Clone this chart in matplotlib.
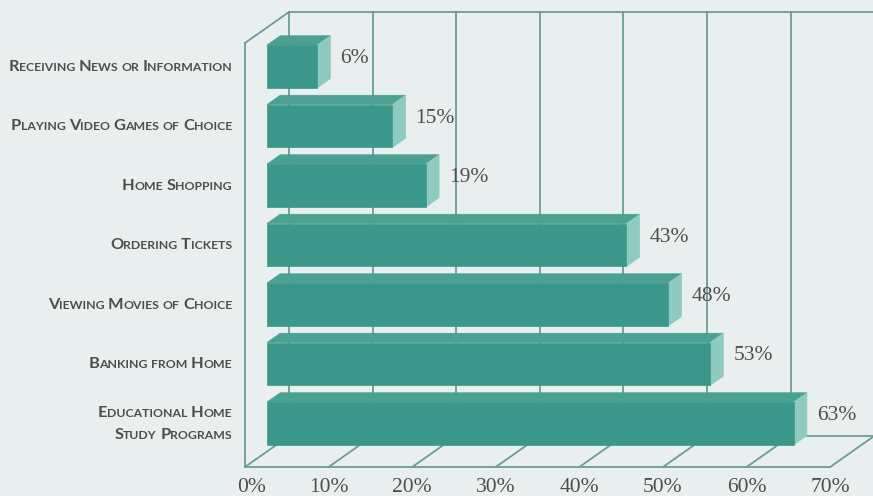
import numpy as np
import matplotlib.pyplot as plt
from matplotlib.patches import Polygon
import matplotlib.transforms as mtransforms

# data
categories = ["Receiving News or Information", "Playing Video Games of Choice",
              "Home Shopping", "Ordering Tickets", "Viewing Movies of Choice",
              "Banking from Home", "Educational Home\nStudy Programs"]
values = [6, 15, 19, 43, 48, 53, 63]
ticks = [0, 10, 20, 30, 40, 50, 60, 70]
tick_labels = ["0%", "10%", "20%", "30%", "40%", "50%", "60%", "70%"]

# layout (pixels of the 873x496 image)
W, H = 873, 496
PX = 8.36          # pixels per percent
ROW = 59.5         # pixels per category row
X0, Y0 = 245, 82   # 0% / first row on the front plane
DXP, DYP = 44, -31 # full depth offset in pixels

dx_full = DXP / PX
dy_full = DYP / ROW
floor_r = (467 - Y0) / ROW
top_r = (43 - Y0) / ROW

bg = "#e8efee"
grid_c = "#6b9c97"
front_c = "#3a978a"
top_c = "#4aa192"
side_c = "#8fcac0"
text_c = "#4e4e4e"


def P(v, r, d):
    return (v + d * dx_full, r + d * dy_full)


fig = plt.figure(figsize=(W / 100, H / 100), dpi=100)
fig.patch.set_facecolor(bg)
ax = fig.add_axes([0, 0, 1, 1])
ax.set_facecolor(bg)
ax.set_xlim(-X0 / PX, (W - X0) / PX)
ax.set_ylim((H - Y0) / ROW, -Y0 / ROW)
ax.axis("off")

# walls and floor
def seg(a, b):
    ax.plot([a[0], b[0]], [a[1], b[1]], color=grid_c, lw=1.3, zorder=1,
            solid_capstyle="round")

for t in ticks:
    seg(P(t, floor_r, 1), P(t, top_r, 1))
    seg(P(t, floor_r, 0), P(t, floor_r, 1))
seg(P(0, top_r, 1), P(80, top_r, 1))
seg(P(0, floor_r, 0), P(ticks[-1], floor_r, 0))
seg(P(0, floor_r, 1), P(80, floor_r, 1))
seg(P(0, floor_r, 0), P(0, top_r, 0))
seg(P(0, top_r, 0), P(0, top_r, 1))

# bars
d0, d1, h = 0.5, 0.8, 0.36
for i, v in enumerate(values):
    t, b = i - h, i + h
    front = [P(0, t, d0), P(v, t, d0), P(v, b, d0), P(0, b, d0)]
    top = [P(0, t, d0), P(v, t, d0), P(v, t, d1), P(0, t, d1)]
    side = [P(v, t, d0), P(v, t, d1), P(v, b, d1), P(v, b, d0)]
    ax.add_patch(Polygon(top, closed=True, fc=top_c, ec=top_c, lw=0.5, zorder=2))
    ax.add_patch(Polygon(side, closed=True, fc=side_c, ec=side_c, lw=0.5, zorder=2))
    ax.add_patch(Polygon(front, closed=True, fc=front_c, ec=front_c, lw=0.5, zorder=3))
    lx, ly = P(v, i, d1)
    ax.text(lx + 10 / PX, i + d0 * dy_full - 8 / ROW, f"{v}%", fontsize=15.5,
            family="Liberation Serif", color=text_c, ha="left", va="center")

# tick labels
for t, lab in zip(ticks, tick_labels):
    x = t + (7 / PX if t == 0 else 0)
    ax.text(x, floor_r + 21 / ROW, lab, fontsize=15.5, family="Liberation Serif",
            color=text_c, ha="center", va="center")

# small caps category labels
renderer = fig.canvas.get_renderer()
BIG, SMALL = 11.8, 8.8
space_px = 0.27 * SMALL * 100 / 72


def smallcaps(x, y, text):
    pieces = []
    words = text.split(" ")
    for k, word in enumerate(words):
        runs = []
        for ch in word:
            size = BIG if ch.isupper() else SMALL
            if runs and runs[-1][1] == size:
                runs[-1][0] += ch.upper()
            else:
                runs.append([ch.upper(), size])
        for s, size in runs:
            tx = ax.text(x, y, s, fontsize=size, family="Lato", weight="bold",
                         color=text_c, ha="left", va="baseline")
            w = tx.get_window_extent(renderer).width
            pieces.append((tx, w))
        if k < len(words) - 1:
            pieces.append((None, space_px))
    total = sum(w for _, w in pieces)
    off = -total
    for tx, w in pieces:
        if tx is not None:
            tx.set_transform(mtransforms.offset_copy(ax.transData, fig=fig, x=off,
                                                     y=0, units="dots"))
        off += w


lab_x = (232 - X0) / PX
for i, cat in enumerate(categories):
    lines = cat.split("\n")
    base = i - 0.19
    if len(lines) > 1:
        base = i - 0.19 - 11 / ROW
    for j, line in enumerate(lines):
        smallcaps(lab_x, base + j * 22 / ROW, line)

fig.savefig("out.png", dpi=100, facecolor=bg)
